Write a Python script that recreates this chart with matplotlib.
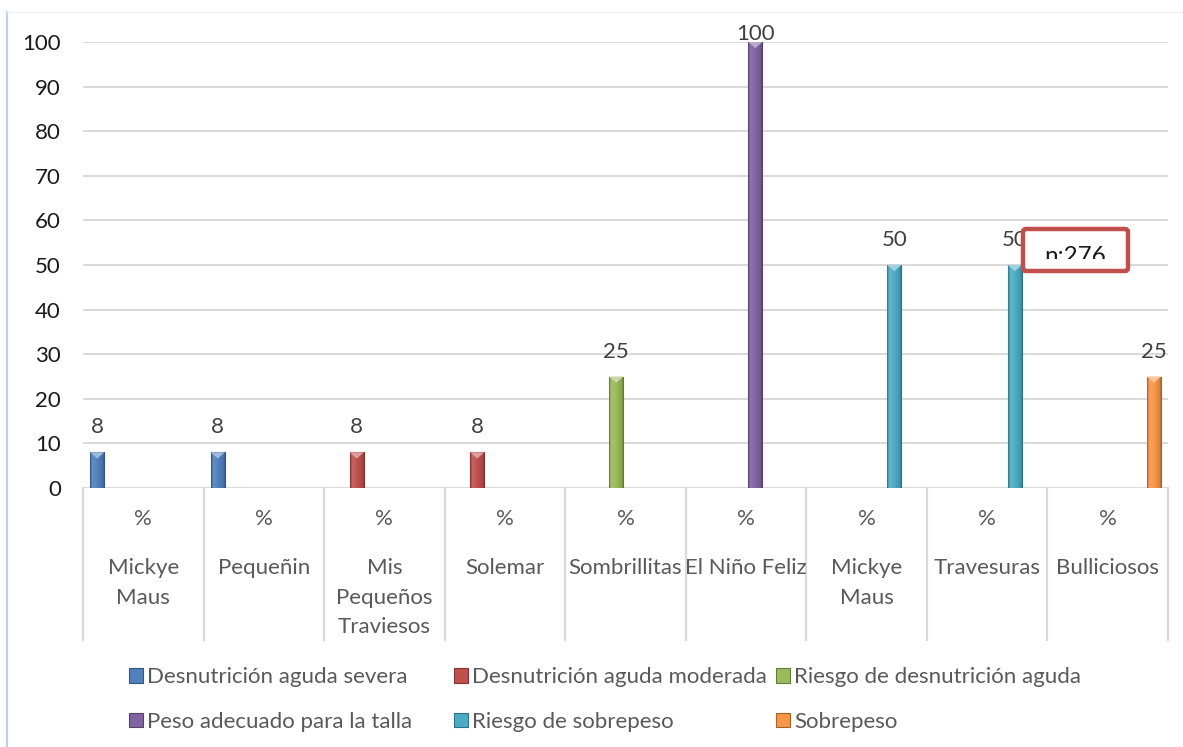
import numpy as np
import matplotlib
matplotlib.use("Agg")
import matplotlib.pyplot as plt
from matplotlib.colors import LinearSegmentedColormap, to_rgb
from matplotlib.patches import Polygon, FancyBboxPatch, Patch, Rectangle
from matplotlib.lines import Line2D
from matplotlib.transforms import IdentityTransform

plt.rcParams['font.family'] = ['Lato', 'DejaVu Sans']

# ---- data ----
centros = ["Mickye\nMaus", "Pequeñin", "Mis\nPequeños\nTraviesos", "Solemar",
           "Sombrillitas", "El Niño Feliz", "Mickye\nMaus", "Travesuras", "Bulliciosos"]
unidad = "%"
series = ["Desnutrición aguda severa", "Desnutrición aguda moderada",
          "Riesgo de desnutrición aguda", "Peso adecuado para la talla",
          "Riesgo de sobrepeso", "Sobrepeso"]
nan = np.nan
severa = [8, 8, nan, nan, nan, nan, nan, nan, nan]
moderada = [nan, nan, 8, 8, nan, nan, nan, nan, nan]
riesgo_desnutricion = [nan, nan, nan, nan, 25, nan, nan, nan, nan]
peso_adecuado = [nan, nan, nan, nan, nan, 100, nan, nan, nan]
riesgo_sobrepeso = [nan, nan, nan, nan, nan, nan, 50, 50, nan]
sobrepeso = [nan, nan, nan, nan, nan, nan, nan, nan, 25]
valores = [severa, moderada, riesgo_desnutricion, peso_adecuado, riesgo_sobrepeso, sobrepeso]
colores = ["#4F81BD", "#C0504D", "#9BBB59", "#8064A2", "#4BACC6", "#F79646"]
y_ticks = list(range(0, 101, 10))
nota = "n:276"

W, H = 1183, 747
FS = 16
GRID = "#D9D9D9"
TXT = "#595959"

fig = plt.figure(figsize=(W / 100, H / 100), dpi=100)
fig.patch.set_facecolor("white")
ax = fig.add_axes([83 / W, (H - 488) / H, (1168 - 83) / W, (488 - 42) / H])

x = np.arange(len(centros))
paso = 0.153
ancho = 0.118


def mezcla(c, o, t):
    c = np.array(to_rgb(c)); o = np.array(to_rgb(o))
    return tuple(c * (1 - t) + o * t)


grupos = []
for i, (vals, col) in enumerate(zip(valores, colores)):
    off = (i - (len(series) - 1) / 2) * paso
    bc = ax.bar(x + off, vals, ancho, color=col, edgecolor=mezcla(col, "black", 0.35),
                linewidth=0.8, label=series[i], zorder=3)
    grupos.append(bc)

ax.set_xlim(-0.5, len(centros) - 0.5)
ax.set_ylim(0, 100)

# bevel shading on every bar
grad = np.linspace(0, 1, 64).reshape(1, -1)
for bc, col in zip(grupos, colores):
    cmap = LinearSegmentedColormap.from_list(
        "bev", [(0, mezcla(col, "black", 0.35)), (0.15, mezcla(col, "white", 0.12)),
                (0.5, to_rgb(col)), (0.85, mezcla(col, "black", 0.12)),
                (1, mezcla(col, "black", 0.4))])
    for p in bc.patches:
        h = p.get_height()
        if not np.isfinite(h) or h <= 0:
            continue
        x0, w = p.get_x(), p.get_width()
        im = ax.imshow(grad, extent=[x0, x0 + w, 0, h], aspect="auto", cmap=cmap,
                       zorder=3.5, interpolation="bilinear")
        im.set_clip_path(p)
        th = 1.4
        ax.add_patch(Polygon([(x0, h), (x0 + w, h), (x0 + w / 2, h - th)], closed=True,
                             facecolor=mezcla(col, "white", 0.45), edgecolor="none", zorder=4))

ax.set_xlim(-0.5, len(centros) - 0.5)
ax.set_ylim(0, 100)
ax.set_aspect("auto")

# value labels
for bc in grupos:
    for p in bc.patches:
        h = p.get_height()
        if not np.isfinite(h):
            continue
        cx = p.get_x() + p.get_width() / 2
        top_px = H - ax.transData.transform((cx, h))[1]
        off_px = min(19, top_px - 40)
        ax.annotate(f"{h:g}", (cx, h), xytext=(0, off_px * 0.72), textcoords="offset points",
                    ha="center", va="baseline", fontsize=FS, color="#404040",
                    annotation_clip=False, zorder=6)

# axes styling
ax.set_yticks(y_ticks)
ax.set_yticklabels([str(t) for t in y_ticks], fontsize=FS, color="#1A1A1A")
ax.tick_params(axis="y", length=0, pad=16)
ax.set_xticks([])
for s in ax.spines.values():
    s.set_visible(False)
ax.grid(axis="y", color=GRID, linewidth=1.4, zorder=0)
ax.set_axisbelow(True)

# two-level category axis
xt = ax.get_xaxis_transform()
for b in np.arange(-0.5, len(centros), 1.0):
    ax.plot([b, b], [0, -152 / 446], transform=xt, color=GRID, linewidth=1.6,
            clip_on=False, zorder=1)
for xi, nombre in zip(x, centros):
    ax.text(xi, -31 / 446, unidad, transform=xt, ha="center", va="center",
            fontsize=FS, color=TXT)
    ax.text(xi, -70 / 446, nombre, transform=xt, ha="center", va="top",
            fontsize=FS, color=TXT, linespacing=1.6)

# legend: three columns, two rows
handles = [Patch(facecolor=c, edgecolor=mezcla(c, "black", 0.35), linewidth=0.8) for c in colores]
col_x = [129, 454, 776]
for k in range(3):
    idx = [k, k + 3]
    lg = fig.legend([handles[j] for j in idx], [series[j] for j in idx],
                    loc="center left", bbox_to_anchor=(col_x[k] / W, (H - 699.5) / H),
                    frameon=False, fontsize=FS, borderpad=0, borderaxespad=0,
                    handlelength=0.62, handleheight=0.62, handletextpad=0.2,
                    labelspacing=1.1)
    for t in lg.get_texts():
        t.set_color(TXT)

# sample size note
it = IdentityTransform()
caja_fondo = FancyBboxPatch((1023, H - 271), 105, 42, boxstyle="round,pad=0,rounding_size=3",
                            transform=it, facecolor="white", edgecolor="none", zorder=10)
fig.patches.append(caja_fondo)
interior = Rectangle((1025, H - 259), 101, 28, transform=it)
t = fig.text(1075 / W, (H - 263) / H, nota, ha="center", va="baseline",
             fontsize=FS + 1.5, color="#1A1A1A", zorder=11)
t.set_clip_path(interior)
caja_borde = FancyBboxPatch((1023, H - 271), 105, 42, boxstyle="round,pad=0,rounding_size=3",
                            transform=it, facecolor="none", edgecolor="#C0504D",
                            linewidth=3.2, zorder=12)
fig.patches.append(caja_borde)

# chart frame edges
fig.add_artist(Line2D([6.5 / W, 6.5 / W], [0, (H - 12) / H], color="#BFD0EC", linewidth=1.6))
fig.add_artist(Line2D([6.5 / W, 1], [(H - 12) / H, (H - 12) / H], color="#EEF2F8", linewidth=1.0))

fig.savefig("out.png", dpi=100, facecolor="white")
